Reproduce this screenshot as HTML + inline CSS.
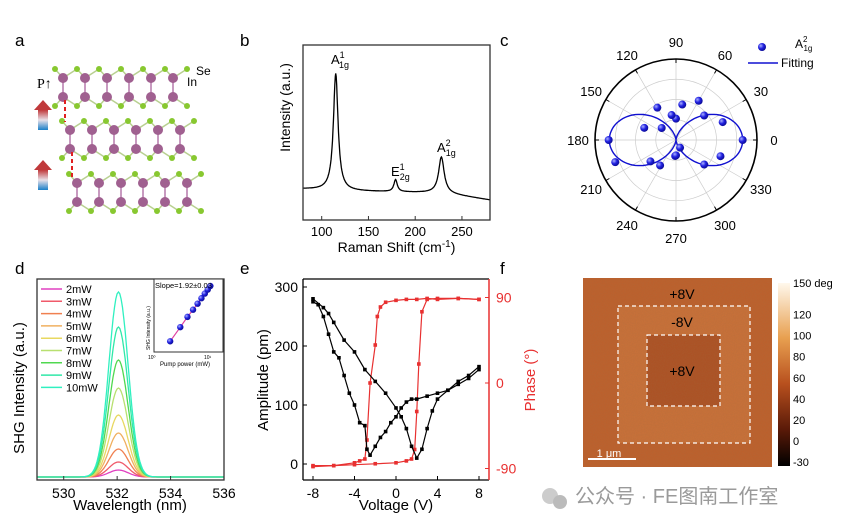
<!DOCTYPE html>
<html><head><meta charset="utf-8"><style>
body{margin:0;background:#fff;}
svg{display:block;font-family:"Liberation Sans","Noto Sans CJK SC",sans-serif;}
</style></head><body>
<svg id="fig" width="844" height="530" viewBox="0 0 844 530">
<defs>
<linearGradient id="arr" x1="0" y1="0" x2="0" y2="1"><stop offset="0" stop-color="#c0393b"/><stop offset="0.5" stop-color="#e8e0e8"/><stop offset="1" stop-color="#1a7fc8"/></linearGradient>
<linearGradient id="cbar" x1="0" y1="1" x2="0" y2="0"><stop offset="0" stop-color="#000"/><stop offset="0.2" stop-color="#5a1a08"/><stop offset="0.45" stop-color="#b8501e"/><stop offset="0.7" stop-color="#e8a050"/><stop offset="1" stop-color="#fff8ec"/></linearGradient>
<filter id="noise"><feTurbulence type="fractalNoise" baseFrequency="0.9" numOctaves="1" result="n"/><feColorMatrix type="matrix" values="0 0 0 0 0.35  0 0 0 0 0.15  0 0 0 0 0.05  0 0 0 0.35 0"/><feComposite in2="SourceGraphic" operator="in"/></filter>
<radialGradient id="ball" cx="0.35" cy="0.35" r="0.7"><stop offset="0" stop-color="#aab0ff"/><stop offset="0.5" stop-color="#2020e0"/><stop offset="1" stop-color="#0a0a90"/></radialGradient>
</defs>
<g font-size="17">
<text x="15" y="46">a</text>
<text x="240" y="46">b</text>
<text x="500" y="46">c</text>
<text x="15" y="274">d</text>
<text x="240" y="274">e</text>
<text x="500" y="274">f</text>
</g>
<g id="pa"></g>
<g id="pb"></g>
<g id="pc"></g>
<g id="pd"></g>
<g id="pe"></g>
<g id="pf">
<rect x="583" y="278" width="189" height="189" fill="#bf5f2b"/>
<rect x="618" y="306" width="132" height="137" fill="#cb7038"/>
<rect x="647" y="335" width="73" height="71" fill="#ad4f22"/>
<rect x="583" y="278" width="189" height="189" fill="#fff" filter="url(#noise)"/>
<rect x="618" y="306" width="132" height="137" fill="none" stroke="#fff" stroke-width="1.2" stroke-dasharray="4,3"/>
<rect x="647" y="335" width="73" height="71" fill="none" stroke="#fff" stroke-width="1.2" stroke-dasharray="4,3"/>
<text x="682" y="299" font-size="14" text-anchor="middle">+8V</text>
<text x="682" y="327" font-size="14" text-anchor="middle">-8V</text>
<text x="682" y="376" font-size="14" text-anchor="middle">+8V</text>
<line x1="588" y1="459" x2="636" y2="459" stroke="#fff" stroke-width="2"/>
<text x="609" y="457" font-size="11" fill="#fff" text-anchor="middle">1 μm</text>
<rect x="778" y="283" width="12" height="183" fill="url(#cbar)"/>
</g>
<g>
<circle cx="550" cy="496" r="8" fill="#ccc"/><circle cx="560" cy="502" r="7" fill="#bbb"/>
<text x="575" y="503" font-size="20" fill="#9a9a9a">公众号 · FE图南工作室</text>
</g>
</svg>
<script>
const NS='http://www.w3.org/2000/svg';
function mk(p,t,a,txt){const e=document.createElementNS(NS,t);for(const k in a)e.setAttribute(k,a[k]);if(txt!==undefined)e.textContent=txt;p.appendChild(e);return e;}
// ===== data =====
const ramanPeakPos=[115,179,228];
const ramanPeakHeight=[117,12,36];
const ramanPeakWidth=[3,2.2,3.5];
const ramanBaseX=[80,130,180,230,280];
const ramanBaseY=[31,29,28,27,20];
const ramanTicks=[100,150,200,250];
const polarAngles=[0,21,41,60,80,90,100,120,140,159,180,200,220,238,267,270,298,319,340];
const polarValues=[1.0,0.75,0.56,0.68,0.54,0.32,0.38,0.56,0.28,0.51,1.01,0.97,0.5,0.45,0.24,0.23,0.13,0.56,0.71];
const polarFitAmp=[1.0];
const polarTicks=[0,30,60,90,120,150,180,210,240,270,300,330];
const shgPowers=['2mW','3mW','4mW','5mW','6mW','7mW','8mW','9mW','10mW'];
const shgPeaks=[7,15,28,44,62,89,117,150,185];
const shgColors=['#e040c0','#f05a6a','#f08050','#f0b060','#e8d860','#b8e070','#50d850','#30e8a8','#30f0c0'];
const shgCenter=[532.05];
const shgSigma=[0.36];
const shgTicks=[530,532,534,536];
const insetPower=[2,3,4,5,6,7,8,9,10];
const insetIntensity=[1300,2900,5200,7800,11000,15000,19500,24500,30000];
const ampVA=[-8,-7.5,-7,-6.5,-6,-5.5,-5,-4.5,-4,-3.5,-3,-2.8,-2.5,-2,-1.5,-1,-0.5,0,0.5,1,1.5,2,3,4,5,6,7,8];
const ampA=[275,270,250,220,190,180,150,120,100,70,65,25,15,30,45,55,70,80,95,105,110,110,115,120,125,140,150,165];
const ampVB=[-8,-7,-6.5,-6,-5,-4,-3,-2,-1,0,0.5,1,1.5,2,2.5,3,3.5,4,5,6,7,8];
const ampB=[280,265,255,240,210,190,160,140,120,95,80,60,30,10,25,60,90,110,125,135,145,160];
const phVA=[-8,-6,-4,-3.5,-3,-2.8,-2.5,-2,-1.8,-1.5,-1,0,1,2,3,4,6,8];
const phA=[-87,-87,-84,-82,-80,-60,0,40,70,80,85,87,88,88,89,88,89,88];
const phVB=[8,6,4,3,2.5,2.2,2,1.8,1.5,1,0,-2,-4,-6,-8];
const phB=[88,89,89,88,75,20,-30,-70,-80,-82,-84,-85,-86,-87,-88];
const ampTicks=[0,100,200,300];
const phTicks=[-90,0,90];
const voltTicks=[-8,-4,0,4,8];
const cbarTicks=[150,120,100,80,60,40,20,0,-30];

// ===== panel a =====
(function(){
 const g=document.getElementById('pa');
 const layers=[{x:63,y1:78,y2:97},{x:70,y1:130,y2:149},{x:77,y1:183,y2:202}];
 layers.forEach((L,li)=>{
  for(let i=0;i<6;i++){
   const x=L.x+i*22;
   mk(g,'line',{x1:x,y1:L.y1,x2:x,y2:L.y2,stroke:'#c89ac0','stroke-width':2});
   mk(g,'line',{x1:x,y1:L.y1,x2:x-8,y2:L.y1-9,stroke:'#b8d090','stroke-width':1.5});
   mk(g,'line',{x1:x,y1:L.y1,x2:x+14,y2:L.y1-9,stroke:'#b8d090','stroke-width':1.5});
   mk(g,'line',{x1:x,y1:L.y2,x2:x-8,y2:L.y2+9,stroke:'#b8d090','stroke-width':1.5});
   mk(g,'line',{x1:x,y1:L.y2,x2:x+14,y2:L.y2+9,stroke:'#b8d090','stroke-width':1.5});
  }
  for(let i=0;i<7;i++){
   const x=L.x-8+i*22;
   mk(g,'circle',{cx:x,cy:L.y1-9,r:3,fill:'#88c830'});
   mk(g,'circle',{cx:x,cy:L.y2+9,r:3,fill:'#88c830'});
  }
  for(let i=0;i<6;i++){
   const x=L.x+i*22;
   mk(g,'circle',{cx:x,cy:L.y1,r:5,fill:'#a06090'});
   mk(g,'circle',{cx:x,cy:L.y2,r:5,fill:'#a06090'});
  }
 });
 mk(g,'line',{x1:65,y1:100,x2:65,y2:122,stroke:'#e02020','stroke-width':2,'stroke-dasharray':'4,3'});
 mk(g,'line',{x1:72,y1:152,x2:72,y2:180,stroke:'#e02020','stroke-width':2,'stroke-dasharray':'4,3'});
 [100,160].forEach(y=>{
  mk(g,'polygon',{points:`34,${y+10} 43,${y} 52,${y+10}`,fill:'#c0393b'});
  mk(g,'rect',{x:38,y:y+10,width:10,height:20,fill:'url(#arr)'});
 });
 mk(g,'text',{x:37,y:88,'font-size':14,'font-family':'Liberation Serif'},'P↑');
 mk(g,'text',{x:196,y:75,'font-size':12},'Se');
 mk(g,'text',{x:187,y:86,'font-size':12},'In');
})();

// ===== panel b =====
(function(){
 const g=document.getElementById('pb');
 const X0=303,X1=490,Y0=45,Y1=220;
 const sx=v=>X0+(v-80)/200*(X1-X0), sy=v=>Y1-v;
 const base=x=>{for(let i=0;i<ramanBaseX.length-1;i++){if(x<=ramanBaseX[i+1]){const t=(x-ramanBaseX[i])/(ramanBaseX[i+1]-ramanBaseX[i]);return ramanBaseY[i]+t*(ramanBaseY[i+1]-ramanBaseY[i]);}}return ramanBaseY[ramanBaseY.length-1];};
 let d='';
 for(let x=80;x<=280;x+=0.5){let y=base(x);ramanPeakPos.forEach((p,i)=>{const w=ramanPeakWidth[i];y+=ramanPeakHeight[i]*w*w/((x-p)*(x-p)+w*w);});d+=(d?'L':'M')+sx(x).toFixed(1)+','+sy(y).toFixed(1);}
 const c=mk(g,'path',{d:d,fill:'none',stroke:'#000','stroke-width':1.3});
 
 
 mk(g,'rect',{x:X0,y:Y0,width:X1-X0,height:Y1-Y0,fill:'none',stroke:'#333','stroke-width':1.3});
 ramanTicks.forEach(t=>{mk(g,'line',{x1:sx(t),y1:Y1,x2:sx(t),y2:Y1-4,stroke:'#333'});const tl=mk(g,'text',{x:sx(t),y:Y1+16,'font-size':13,'text-anchor':'middle'},t);});
 mk(g,'text',{x:(X0+X1)/2,y:252,'font-size':14,'text-anchor':'middle'}).innerHTML='Raman Shift (cm<tspan dy="-5" font-size="10">-1</tspan><tspan dy="5">)</tspan>';
 mk(g,'text',{x:0,y:0,'font-size':14,'text-anchor':'middle',transform:`translate(290,${(Y0+Y1)/2-25}) rotate(-90)`},'Intensity (a.u.)');
 const lab=(x,y,b,sup,sub)=>{mk(g,'text',{x:x,y:y,'font-size':13}).innerHTML=`${b}<tspan font-size="9" dy="-6">${sup}</tspan><tspan font-size="9" dx="-5" dy="10">${sub}</tspan>`;};
 lab(331,64,'A','1','1g');lab(391,176,'E','1','2g');lab(437,152,'A','2','1g');
})();

// ===== panel c =====
(function(){
 const g=document.getElementById('pc');
 const cx=676,cy=140,R=81,rmax=1.215;
 [0.25,0.5,0.75,1].forEach(f=>mk(g,'circle',{cx:cx,cy:cy,r:R*f,fill:'none',stroke:'#ccc','stroke-width':0.7}));
 polarTicks.forEach(a=>{const r=a*Math.PI/180;mk(g,'line',{x1:cx,y1:cy,x2:cx+R*Math.cos(r),y2:cy-R*Math.sin(r),stroke:'#ccc','stroke-width':0.7});
  const tl=mk(g,'text',{x:cx+(R+17)*Math.cos(r),y:cy-(R+17)*Math.sin(r)+5,'font-size':13,'text-anchor':'middle'},a);
  mk(g,'line',{x1:cx+(R-4)*Math.cos(r),y1:cy-(R-4)*Math.sin(r),x2:cx+R*Math.cos(r),y2:cy-R*Math.sin(r),stroke:'#000'});
 });
 mk(g,'circle',{cx:cx,cy:cy,r:R,fill:'none',stroke:'#000','stroke-width':1.6});
 let d='';
 for(let a=0;a<=360;a+=2){const r=a*Math.PI/180;const v=polarFitAmp[0]*Math.cos(r)**2;const rr=v/rmax*R;d+=(d?'L':'M')+(cx+rr*Math.cos(r)).toFixed(1)+','+(cy-rr*Math.sin(r)).toFixed(1);}
 const f=mk(g,'path',{d:d,fill:'none',stroke:'#1010d0','stroke-width':1.4});
 
 polarAngles.forEach((a,i)=>{const r=a*Math.PI/180,rr=polarValues[i]/rmax*R;const p=mk(g,'circle',{cx:cx+rr*Math.cos(r),cy:cy-rr*Math.sin(r),r:4,fill:'url(#ball)'});});
 mk(g,'circle',{cx:762,cy:47,r:4,fill:'url(#ball)'});
 mk(g,'text',{x:795,y:48,'font-size':12}).innerHTML='A<tspan font-size="8" dy="-6">2</tspan><tspan font-size="8" dx="-4" dy="9">1g</tspan>';
 mk(g,'line',{x1:748,y1:63,x2:778,y2:63,stroke:'#1010d0','stroke-width':1.4});
 mk(g,'text',{x:781,y:67,'font-size':12},'Fitting');
})();

// ===== panel d =====
(function(){
 const g=document.getElementById('pd');
 const X0=37,X1=224,Y0=279,Y1=480,base=477;
 const sx=v=>X0+(v-529)/7*(X1-X0);
 shgPeaks.forEach((h,i)=>{let d='';for(let w=529;w<=536;w+=0.05){const y=base-h*Math.exp(-((w-shgCenter[0])**2)/(2*shgSigma[0]**2));d+=(d?'L':'M')+sx(w).toFixed(1)+','+y.toFixed(1);}
  const p=mk(g,'path',{d:d,fill:'none',stroke:shgColors[i],'stroke-width':1.3});
  const ly=289+i*12.3;mk(g,'line',{x1:41,y1:ly,x2:62,y2:ly,stroke:shgColors[i],'stroke-width':1.5});
  const lt=mk(g,'text',{x:66,y:ly+4,'font-size':11},shgPowers[i]);
 });
 mk(g,'rect',{x:X0,y:Y0,width:X1-X0,height:Y1-Y0,fill:'none',stroke:'#333','stroke-width':1.3});
 shgTicks.forEach(t=>{mk(g,'line',{x1:sx(t),y1:Y1,x2:sx(t),y2:Y1-4,stroke:'#333'});const tl=mk(g,'text',{x:sx(t),y:Y1+18,'font-size':14,'text-anchor':'middle'},t);});
 mk(g,'text',{x:130,y:510,'font-size':15,'text-anchor':'middle'},'Wavelength (nm)');
 mk(g,'text',{x:0,y:0,'font-size':15,'text-anchor':'middle',transform:'translate(24,388) rotate(-90)'},'SHG Intensity (a.u.)');
 // inset
 const IX0=154,IX1=223,IY0=279,IY1=352;
 mk(g,'rect',{x:IX0,y:IY0,width:IX1-IX0,height:IY1-IY0,fill:'#fff',stroke:'#333'});
 const lx=v=>IX0+(Math.log10(v)-0.02)/1.2*(IX1-IX0), ly=v=>IY1-(Math.log10(v)-2.85)/1.8*(IY1-IY0);
 let d='';insetPower.forEach((p,i)=>{d+=(i?'L':'M')+lx(p)+','+ly(insetIntensity[i]);});
 mk(g,'path',{d:d,stroke:'#e040a0','stroke-width':1.2,fill:'none'});
 insetPower.forEach((p,i)=>{const c=mk(g,'circle',{cx:lx(p),cy:ly(insetIntensity[i]),r:3.2,fill:'url(#ball)'});});
 mk(g,'text',{x:155,y:288,'font-size':7.5},'Slope=1.92±0.03');
 mk(g,'text',{x:148,y:359,'font-size':5},'10⁰');mk(g,'text',{x:204,y:359,'font-size':5},'10¹');
 mk(g,'text',{x:160,y:366,'font-size':6},'Pump power (mW)');
 mk(g,'text',{x:0,y:0,'font-size':5,transform:'translate(150,350) rotate(-90)'},'SHG Intensity (a.u.)');
})();

// ===== panel e =====
(function(){
 const g=document.getElementById('pe');
 const X0=303,X1=489,Y0=279,Y1=480;
 const sx=v=>313+(v+8)/16*166, sy=v=>464-v*(177/300), sp=v=>383-v*(85.5/90);
 const line=(xs,ys,f,col,name)=>{let d='';xs.forEach((x,i)=>{d+=(i?'L':'M')+sx(x).toFixed(1)+','+f(ys[i]).toFixed(1);});const p=mk(g,'path',{d:d,fill:'none',stroke:col,'stroke-width':1.2});
  xs.forEach((x,i)=>{const m=mk(g,'rect',{x:sx(x)-1.8,y:f(ys[i])-1.8,width:3.6,height:3.6,fill:col});});};
 line(phVA,phA,sp,'#e83030','phase-forward');line(phVB,phB,sp,'#e83030','phase-reverse');
 line(ampVA,ampA,sy,'#000','amplitude-forward');line(ampVB,ampB,sy,'#000','amplitude-reverse');
 mk(g,'line',{x1:X0,y1:Y0,x2:X0,y2:Y1,stroke:'#000','stroke-width':1.3});
 mk(g,'line',{x1:X0,y1:Y1,x2:X1,y2:Y1,stroke:'#000','stroke-width':1.3});
 mk(g,'line',{x1:X0,y1:Y0,x2:X1,y2:Y0,stroke:'#000','stroke-width':1.3});
 mk(g,'line',{x1:X1,y1:Y0,x2:X1,y2:Y1,stroke:'#e83030','stroke-width':1.5});
 voltTicks.forEach(t=>{mk(g,'line',{x1:sx(t),y1:Y1,x2:sx(t),y2:Y1-4,stroke:'#000'});const tl=mk(g,'text',{x:sx(t),y:Y1+18,'font-size':14,'text-anchor':'middle'},t);});
 ampTicks.forEach(t=>{mk(g,'line',{x1:X0,y1:sy(t),x2:X0+4,y2:sy(t),stroke:'#000'});const tl=mk(g,'text',{x:X0-5,y:sy(t)+5,'font-size':14,'text-anchor':'end'},t);});
 phTicks.forEach(t=>{mk(g,'line',{x1:X1,y1:sp(t),x2:X1-4,y2:sp(t),stroke:'#e83030'});const tl=mk(g,'text',{x:X1+7,y:sp(t)+5,'font-size':14,fill:'#e83030'},t);});
 mk(g,'text',{x:396,y:510,'font-size':15,'text-anchor':'middle'},'Voltage (V)');
 mk(g,'text',{x:0,y:0,'font-size':15,'text-anchor':'middle',transform:'translate(268,380) rotate(-90)'},'Amplitude (pm)');
 mk(g,'text',{x:0,y:0,'font-size':15,'text-anchor':'middle',fill:'#e83030',transform:'translate(535,380) rotate(-90)'},'Phase (°)');
})();

// ===== colorbar ticks =====
(function(){
 const g=document.getElementById('pf');
 const cy=v=>v>=0? 441-v*(441-283)/150 : 441+(-v)*(462-441)/30;
 cbarTicks.forEach((t,i)=>{const tl=mk(g,'text',{x:793,y:cy(t)+4,'font-size':11},i==0?'150 deg':t);});
})();
</script>
</body></html>
